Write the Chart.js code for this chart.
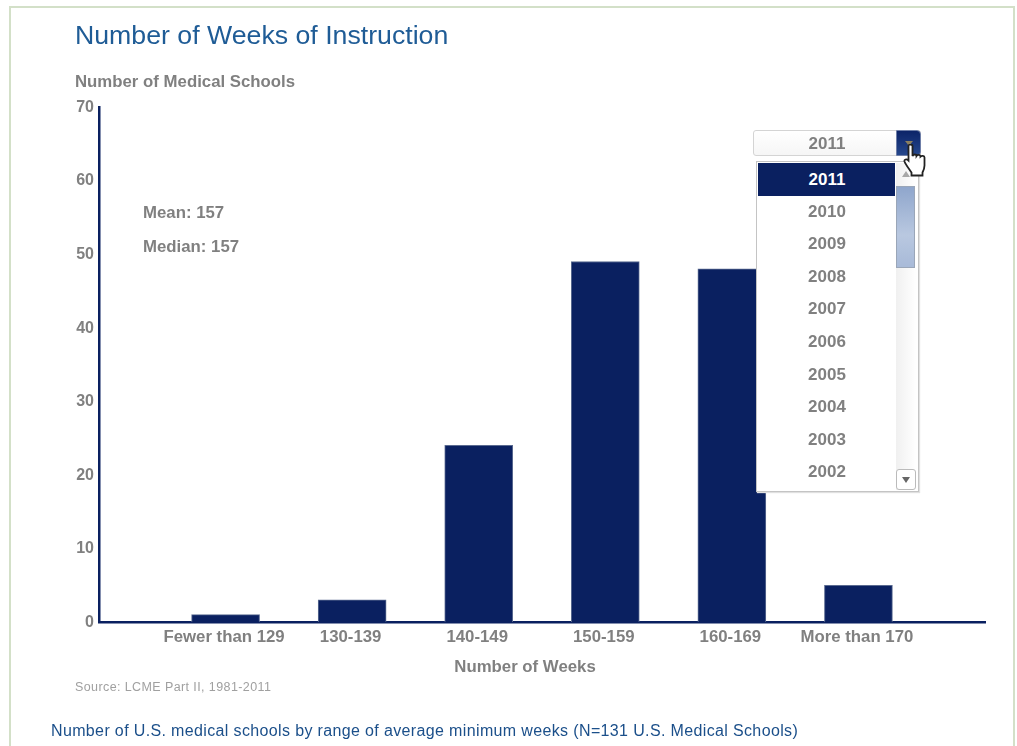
<!DOCTYPE html>
<html>
<head>
<meta charset="utf-8">
<title>Number of Weeks of Instruction</title>
<script src="https://cdn.jsdelivr.net/npm/chart.js@4"></script>
<style>
  html, body { margin: 0; padding: 0; background: #fff; overflow: hidden; }
  body { width: 1017px; height: 746px; position: relative; font-family: "Liberation Sans", Arial, sans-serif; }
  #frame { position: absolute; left: 9px; top: 6px; width: 1006px; height: 760px; border: 2px solid #d3e0c8; box-sizing: border-box; }
  #dataChart { position: absolute; left: 0; top: 0; }
  .txt { position: absolute; white-space: nowrap; }
  .gray { color: #808080; font-weight: bold; font-size: 16.8px; line-height: 18px; }
  #title { left: 75px; top: 20px; font-size: 26.7px; line-height: 30px; color: #1f5c96; }
  #source { left: 75px; top: 680px; font-size: 12.5px; letter-spacing: 0.4px; line-height: 14px; color: #a0a0a0; }
  #caption { left: 51px; top: 721px; font-size: 16px; letter-spacing: 0.36px; line-height: 19px; color: #1b4f8a; }
  #xTitle { left: 425px; width: 200px; top: 658px; text-align: center; }
  /* year dropdown */
  #select { position: absolute; left: 753px; top: 130px; width: 168px; height: 26px; box-sizing: border-box; border: 1px solid #d4d4d4; border-radius: 3px; background: linear-gradient(#fff, #f6f6f6); text-align: center; color: #808080; font-weight: bold; font-size: 17px; line-height: 25px; padding-right: 20px; }
  #selectBtn { position: absolute; right: -1px; top: -1px; width: 25px; height: 26px; background: linear-gradient(#0c2468, #25478c); border: 1px solid #6f7fa8; box-sizing: border-box; border-radius: 0 4px 4px 0; }
  #selectBtn:after { content: ""; position: absolute; left: 8px; top: 10px; border: 4px solid transparent; border-top: 5px solid #8a7f60; }
  #list { position: absolute; left: 756px; top: 161px; width: 163px; height: 331px; box-sizing: border-box; border: 1px solid #c4c4c4; background: #fff; box-shadow: 1px 1px 1px #e0e0e0; }
  .row { position: absolute; left: 1px; width: 137px; height: 33px; text-align: center; color: #808080; font-weight: bold; font-size: 17px; line-height: 33px; text-indent: 1px; }
  .row.sel { background: #0a2060; color: #fff; }
  #sbar { position: absolute; left: 139px; top: 1px; width: 20px; height: 327px; background: linear-gradient(90deg, #f0f0f0, #fff); }
  #upArrow { position: absolute; left: 6px; top: 8px; border: 4px solid transparent; border-bottom: 6px solid #a8a8a8; border-top: 0; }
  #thumb { position: absolute; left: 0; top: 23px; width: 19px; height: 82px; background: linear-gradient(#8fa6cc, #b9c8e0 60%, #a8bad8); border: 1px solid #9aa6b8; box-sizing: border-box; }
  #downBtn { position: absolute; left: 0; bottom: 0; width: 20px; height: 21px; box-sizing: border-box; border: 1px solid #bbb; border-radius: 3px; background: #fff; }
  #downBtn:after { content: ""; position: absolute; left: 5px; top: 7px; border: 4px solid transparent; border-top: 6px solid #666; border-bottom: 0; }
  #hand { position: absolute; left: 903px; top: 144px; }
</style>
</head>
<body>
<div id="frame"></div>
<canvas id="dataChart" width="1017" height="746"></canvas>
<div class="txt" id="title">Number of Weeks of Instruction</div>
<div class="txt gray" style="left:75px;top:73px;">Number of Medical Schools</div>
<div class="txt gray" style="left:143px;top:204px">Mean: 157</div>
<div class="txt gray" style="left:143px;top:238px">Median: 157</div>
<div class="txt gray" id="xTitle">Number of Weeks</div>
<div class="txt" id="source">Source: LCME Part II, 1981-2011</div>
<div class="txt" id="caption">Number of U.S. medical schools by range of average minimum weeks (N=131 U.S. Medical Schools)</div>

<div id="select">2011<div id="selectBtn"></div></div>
<div id="list">
  <div id="sbar"><div id="upArrow"></div><div id="thumb"></div><div id="downBtn"></div></div>
</div>
<svg id="hand" width="23" height="33" viewBox="0 0 22 33">
  <path d="M5 2c0-2 4-2 4 0v10c1-2 4-2 4 0 1-1.500 4-1.500 4 .5 1-1 4-1 4 1v8c0 3-1 5-2 7v3H8v-3c-2-3-6-8-7-11-.5-2 2-3 4-1V2z" fill="#fff" stroke="#222" stroke-width="1.800"/>
</svg>

<script>
const categories = ['', 'Fewer than 129', '130-139', '140-149', '150-159', '160-169', 'More than 170', ''];
const schoolCounts = [null, 1, 3, 24, 49, 48, 5, null];
const years = ['2011', '2010', '2009', '2008', '2007', '2006', '2005', '2004', '2003', '2002'];

const navy = '#0a2060';
const fontFamily = '"Liberation Sans", Arial, sans-serif';

// --- Dropdown rows ---
const list = document.getElementById('list');
years.forEach((year, i) => {
    const row = document.createElement('div');
    row.className = i === 0 ? 'row sel' : 'row';
    row.style.top = (i === 0 ? 1 : i * 32.6) + 'px';
    row.innerText = year;
    list.appendChild(row);
});

// --- Chart ---
new Chart(document.getElementById('dataChart').getContext('2d'), {
    type: 'bar',
    data: {
        labels: categories,
        datasets: [{
            data: schoolCounts,
            backgroundColor: navy,
            borderColor: '#5a6a90',
            borderWidth: 1,
            barThickness: 68
        }]
    },
    options: {
        responsive: false,
        animation: false,
        layout: { padding: { top: 107, right: 32, left: 0, bottom: 0 } },
        plugins: { legend: { display: false }, tooltip: { enabled: false } },
        scales: {
            x: {
                offset: false,
                grid: { display: false, drawTicks: false },
                border: { color: navy, width: 2.5 },
                ticks: { color: '#808080', font: { family: fontFamily, size: 16.8, weight: 'bold' }, padding: 5, labelOffset: -1.5, maxRotation: 0, autoSkip: false },
                afterFit: (scale) => { scale.height = 124; }
            },
            y: {
                min: 0,
                max: 70,
                grid: { display: false, drawTicks: false },
                border: { color: navy, width: 2.5 },
                ticks: { stepSize: 10, color: '#808080', font: { family: fontFamily, size: 16, weight: 'bold' }, padding: 5, labelOffset: 0.5 },
                afterFit: (scale) => { scale.width = 99; }
            }
        }
    }
});
</script>
</body>
</html>
